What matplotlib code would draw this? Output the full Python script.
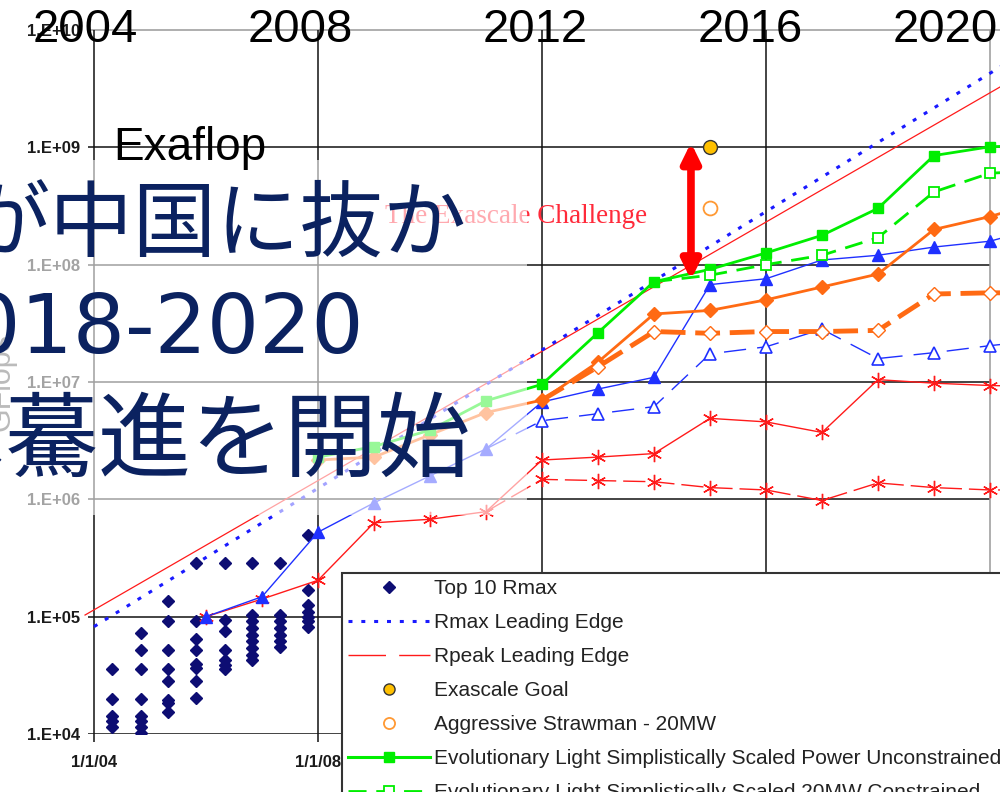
import numpy as np
import matplotlib
matplotlib.use('Agg')
import matplotlib.pyplot as plt
from matplotlib.lines import Line2D
from matplotlib.patches import Rectangle
from matplotlib.ticker import NullLocator

# all values below are log10(GFlops)
top10_dates = [2004.33, 2004.84, 2005.33, 2005.83, 2006.34, 2006.83, 2007.32, 2007.83]
top10_log = [
    [4.55, 4.30, 4.15, 4.11, 4.06],
    [4.86, 4.72, 4.55, 4.30, 4.15, 4.11, 4.06, 4.01],
    [5.13, 4.96, 4.72, 4.55, 4.45, 4.29, 4.26, 4.19],
    [5.46, 4.96, 4.81, 4.72, 4.60, 4.56, 4.45, 4.31],
    [5.46, 4.97, 4.88, 4.72, 4.63, 4.59, 4.55],
    [5.46, 5.01, 4.96, 4.90, 4.84, 4.79, 4.73, 4.67, 4.63],
    [5.46, 5.01, 4.96, 4.90, 4.84, 4.79, 4.74],
    [5.70, 5.23, 5.10, 5.04, 5.00, 4.96, 4.91],
]

rmax_edge_x = [2004.0, 2020.2]
rmax_edge_log = [4.915, 9.69]
rpeak_edge_x = [2003.84, 2020.2]
rpeak_edge_log = [5.014, 9.52]

goal_year, goal_log = 2015.0, 9.0
strawman_year, strawman_log = 2015.0, 8.48

# evolutionary light, simplistically scaled (green)
yrs_08 = list(range(2008, 2022))
light_simple_pu = [6.36, 6.45, 6.59, 6.84, 6.98, 7.42, 7.855, 7.96, 8.10, 8.25, 8.48, 8.93, 9.005, 9.02]
yrs_14 = list(range(2014, 2022))
light_simple_20 = [7.855, 7.91, 8.00, 8.08, 8.23, 8.62, 8.78, 8.80]

# evolutionary heavy, simplistically scaled (orange)
heavy_simple_pu = [6.335, 6.36, 6.55, 6.74, 6.846, 7.17, 7.58, 7.61, 7.70, 7.81, 7.92, 8.30, 8.41, 8.55]
yrs_12 = list(range(2012, 2022))
heavy_simple_20 = [6.846, 7.13, 7.43, 7.415, 7.43, 7.43, 7.44, 7.75, 7.76, 7.76]

# evolutionary light / heavy, fully scaled (blue / red)
yrs_06 = list(range(2006, 2022))
light_full_pu = [5.0, 5.17, 5.72, 5.97, 6.20, 6.43, 6.83, 6.94, 7.04, 7.83, 7.88, 8.04, 8.08, 8.15, 8.20, 8.33]
yrs_11 = list(range(2011, 2022))
light_full_20 = [6.43, 6.67, 6.73, 6.79, 7.24, 7.30, 7.45, 7.20, 7.25, 7.31, 7.36]
heavy_full_pu = [5.0, 5.15, 5.31, 5.80, 5.83, 5.895, 6.335, 6.36, 6.39, 6.69, 6.66, 6.57, 7.02, 6.99, 6.97, 6.96]
heavy_full_20 = [5.895, 6.17, 6.16, 6.15, 6.10, 6.08, 5.99, 6.14, 6.10, 6.08, 6.08]

tick_years = [2004, 2008, 2012, 2016, 2020]
tick_year_labels = ['1/1/04', '1/1/08', '1/1/12', '1/1/16', '1/1/20']
decades = list(range(4, 11))
year_titles = ['2004', '2008', '2012', '2016', '2020']

legend_labels = [
    'Top 10 Rmax',
    'Rmax Leading Edge',
    'Rpeak Leading Edge',
    'Exascale Goal',
    'Aggressive Strawman - 20MW',
    'Evolutionary Light Simplistically Scaled Power Unconstrained',
    'Evolutionary Light Simplistically Scaled 20MW Constrained',
    'Evolutionary Heavy Simplistically Scaled Power Unconstrained',
    'Evolutionary Heavy Simplistically Scaled 20MW Constrained',
    'Evolutionary Light Fully Scaled Power Unconstrained',
    'Evolutionary Light Fully Scaled 20MW Constrained',
    'Evolutionary Heavy Fully Scaled Power Unconstrained',
    'Evolutionary Heavy Fully Scaled 20MW Constrained',
]

GREEN = '#00ee00'
ORANGE = '#ff6a13'
BLUE = '#1f30ff'
RED = '#ff1a1a'
NAVY = '#0d0d73'
STAR = (6, 2, 0)

W, H = 1000, 792
fig = plt.figure(figsize=(W / 100, H / 100), dpi=100)
fig.patch.set_facecolor('white')


def fx(px):
    return px / W


def fy(py):
    return 1 - py / H


ax = fig.add_axes([fx(82.8), fy(734), (1001.2 - 82.8) / W, 704 / H])
ax.set_yscale('log')
ax.set_xlim(2003.8, 2020.2)
ax.set_ylim(1e4, 1e10)
for s in ax.spines.values():
    s.set_visible(False)
ax.yaxis.set_minor_locator(NullLocator())
ax.set_yticks([10.0 ** d for d in decades])
ax.set_yticklabels(['1.E+%02d' % d for d in decades])
ax.set_xticks(tick_years)
ax.set_xticklabels(tick_year_labels)
ax.tick_params(axis='both', length=0, labelsize=12, labelcolor='#1a1a1a')
ax.tick_params(axis='y', pad=2)
ax.tick_params(axis='x', pad=15)
for lab in ax.get_xticklabels() + ax.get_yticklabels():
    lab.set_fontweight('bold')
    lab.set_fontfamily('Liberation Sans')

# grid
yv = [10.0 ** d for d in decades]
ax.hlines(yv[:5], 2003.89, 2020, colors='#111111', lw=1.1, zorder=1)
ax.hlines(yv[5], 2003.89, 2020.2, colors='#111111', lw=1.1, zorder=1)
ax.hlines(yv[6], 2003.89, 2020.2, colors='#999999', lw=1.1, zorder=1, clip_on=False)
ax.vlines(tick_years[:-1], 10 ** 3.93, 1e10, colors='#111111', lw=1.1, zorder=1, clip_on=False)
ax.vlines(tick_years[-1], 10 ** 3.93, 1e10, colors='#999999', lw=1.1, zorder=1, clip_on=False)

# top 10
for d, vals in zip(top10_dates, top10_log):
    ax.plot([d] * len(vals), 10.0 ** np.array(vals), ls='none', marker='D', ms=6.5,
            color=NAVY, zorder=3)

ax.plot(rpeak_edge_x, 10.0 ** np.array(rpeak_edge_log), color=RED, lw=0.9, zorder=2)
ax.plot(rmax_edge_x, 10.0 ** np.array(rmax_edge_log), color='#1a1aff', lw=2.2,
        ls=(0, (1.3, 2.9)), zorder=2)


def series(x, v, color, lw, ls, marker, ms, mfc, mew=1.0, skip_first=False, z=4):
    ax.plot(x, 10.0 ** np.array(v), color=color, lw=lw, ls=ls, marker=marker, ms=ms,
            mfc=mfc, mec=color, mew=mew, zorder=z,
            markevery=slice(1, None) if skip_first else None)


series(yrs_06, heavy_full_pu, RED, 1.0, '-', STAR, 11, RED)
series(yrs_11, heavy_full_20, RED, 1.0, (0, (16, 5)), STAR, 11, RED, skip_first=True)
series(yrs_06, light_full_pu, BLUE, 1.0, '-', '^', 9, BLUE)
series(yrs_11, light_full_20, BLUE, 1.0, (0, (16, 8)), '^', 9, 'white', 1.2, skip_first=True)
series(yrs_08, heavy_simple_pu, ORANGE, 2.0, '-', 'D', 7, ORANGE)
series(yrs_12, heavy_simple_20, ORANGE, 3.5, (0, (5.1, 2.0)), 'D', 7, 'white', 1.0, skip_first=True)
series(yrs_08, light_simple_pu, GREEN, 2.0, '-', 's', 7.5, GREEN, z=5)
series(yrs_14, light_simple_20, GREEN, 2.0, (0, (6.5, 3.5)), 's', 7, 'white', 1.3, skip_first=True, z=5)

ax.plot([goal_year], [10 ** goal_log], ls='none', marker='o', ms=10, mfc='#ffc000',
        mec='#333333', mew=1.0, zorder=6)
ax.plot([strawman_year], [10 ** strawman_log], ls='none', marker='o', ms=10, mfc='none',
        mec='#ff9933', mew=1.3, zorder=6)

# exascale gap arrow
ax.annotate('', xy=(2014.66, 10 ** 9.04), xytext=(2014.66, 10 ** 7.87),
            arrowprops=dict(arrowstyle='<|-|>,head_length=0.55,head_width=0.27',
                            mutation_scale=20, lw=5.5, color='#ff0000',
                            shrinkA=0, shrinkB=0), zorder=7)

ax.text(2009.2, 10 ** 8.355, 'The Exascale Challenge', family='Liberation Serif',
        fontsize=19.5, color='#ff2a3a', ha='left', va='baseline', zorder=6)

# legend (proxy handles)
handles = [
    Line2D([], [], ls='none', marker='D', ms=6.5, color=NAVY),
    Line2D([], [], color='#1a1aff', lw=2.2, ls=(0, (1.3, 2.9))),
    Line2D([], [], color=RED, lw=1.0, ls=(0, (27, 9.5))),
    Line2D([], [], ls='none', marker='o', ms=8, mfc='#ffc000', mec='#333333'),
    Line2D([], [], ls='none', marker='o', ms=8, mfc='none', mec='#ff9933', mew=1.3),
    Line2D([], [], color=GREEN, lw=2.2, marker='s', ms=7.5),
    Line2D([], [], color=GREEN, lw=2.0, ls=(0, (6.5, 3.5)), marker='s', ms=7, mfc='white', mew=1.3),
    Line2D([], [], color=ORANGE, lw=2.0, marker='D', ms=7),
    Line2D([], [], color=ORANGE, lw=3.5, ls=(0, (5.1, 2.0)), marker='D', ms=7, mfc='white'),
    Line2D([], [], color=BLUE, lw=1.0, marker='^', ms=9),
    Line2D([], [], color=BLUE, lw=1.0, ls=(0, (16, 8)), marker='^', ms=9, mfc='white'),
    Line2D([], [], color=RED, lw=1.0, marker=STAR, ms=11),
    Line2D([], [], color=RED, lw=1.0, ls=(0, (16, 5)), marker=STAR, ms=11),
]
leg = ax.legend(handles, legend_labels, loc='upper left',
                bbox_to_anchor=(fx(342), fy(573)), bbox_transform=fig.transFigure,
                borderaxespad=0, frameon=True, fancybox=False, framealpha=1,
                edgecolor='#333333', handlelength=3.94, handletextpad=0.19,
                borderpad=0.3, labelspacing=0.72,
                prop={'family': 'Liberation Sans', 'size': 15})
leg.get_frame().set_linewidth(1.5)
for t in leg.get_texts():
    t.set_color('#222222')
leg.set_zorder(10)

# slide overlay: y label, white wash, annotations
fig.text(fx(17), fy(333), 'GFlops', rotation=90, ha='right', va='top', fontsize=22,
         color='#555555', family='Liberation Sans', zorder=0.5)
fig.patches.append(Rectangle((0, fy(515)), fx(527), (515 - 160) / H, transform=fig.transFigure,
                             facecolor='white', edgecolor='none', alpha=0.6, zorder=1))

fig.text(fx(113), fy(160), 'Exaflop', fontsize=33, family='Liberation Sans',
         color='black', ha='left', va='baseline', zorder=5)
for lx, s in zip([33, 248, 483, 698, 893], year_titles):
    fig.text(fx(lx), fy(42), s, fontsize=34, family='Liberation Sans', color='black',
             ha='left', va='baseline', zorder=5)

JP = ['Noto Sans CJK JP', 'DejaVu Sans']
NAVY_TXT = '#0b2260'
fig.text(fx(467), fy(251), 'が中国に抜か', fontsize=60, family=JP,
         color=NAVY_TXT, ha='right', va='baseline', zorder=6)
fig.text(fx(364), fy(353), '2018-2020', fontsize=59, family='DejaVu Sans',
         color=NAVY_TXT, ha='right', va='baseline', zorder=6)
fig.text(fx(471), fy(470), 'へ驀進を開始', fontsize=67, family=JP,
         color=NAVY_TXT, ha='right', va='baseline', zorder=6)

fig.savefig('out.png', dpi=100)
